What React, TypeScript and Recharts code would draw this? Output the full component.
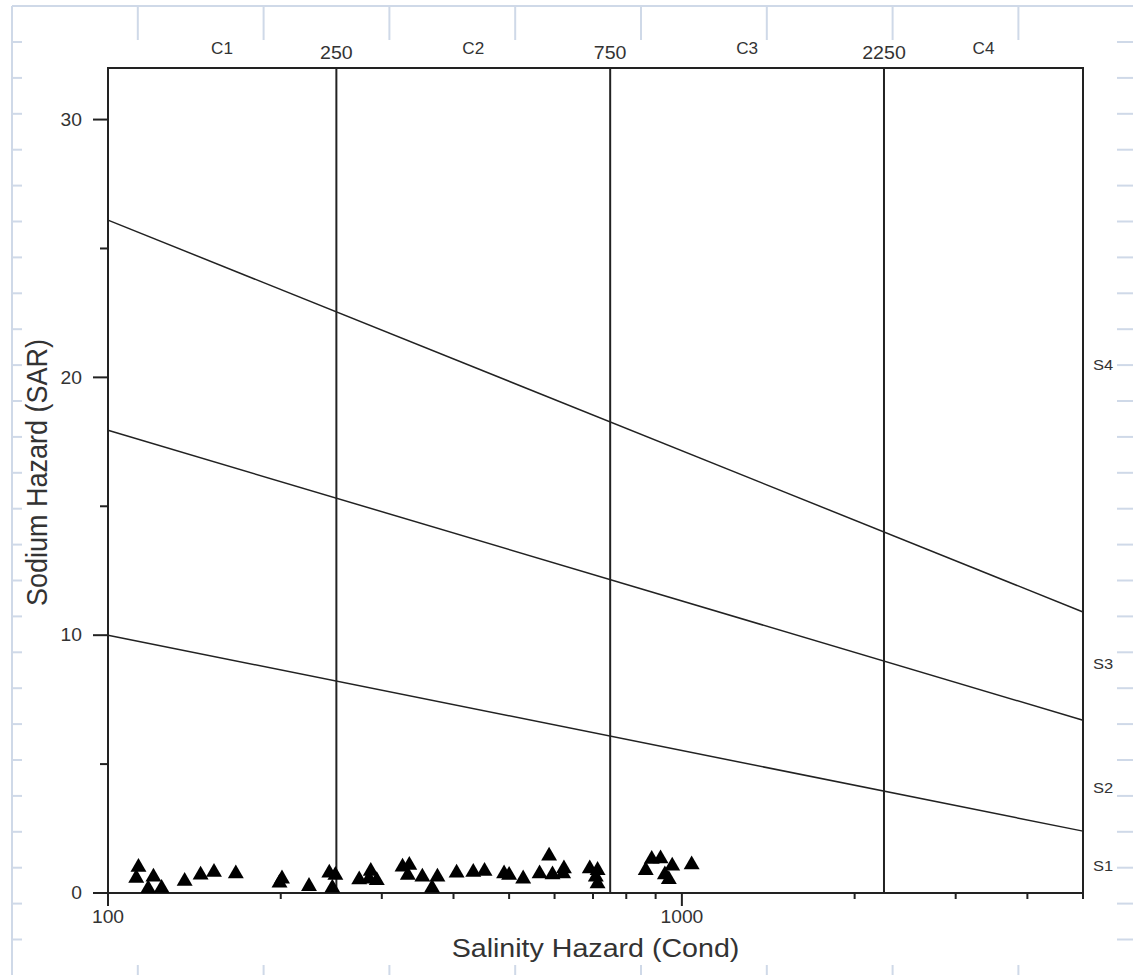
import { ComposedChart, Scatter, XAxis, YAxis, ReferenceLine, ReferenceArea, Symbols } from 'recharts';

// sample points: salinity (EC) and SAR
const salinity = [
  113, 112, 120, 117.5, 124, 136, 145, 153, 167, 201, 199, 224,
  243, 249, 246, 274, 287, 285, 294, 326, 335, 333, 353, 375,
  367, 405, 433, 453, 490, 500, 529, 565, 587, 595, 623, 621,
  691, 713, 708, 713, 865, 886, 918, 962, 934, 949, 1040,
];
const sodium = [
  1.0, 0.58, 0.62, 0.17, 0.19, 0.46, 0.7, 0.81, 0.75, 0.55, 0.39, 0.26,
  0.78, 0.69, 0.2, 0.52, 0.85, 0.55, 0.49, 1.01, 1.08, 0.69, 0.62, 0.62,
  0.2, 0.78, 0.81, 0.85, 0.75, 0.69, 0.55, 0.75, 1.44, 0.71, 0.94, 0.75,
  0.94, 0.88, 0.62, 0.36, 0.88, 1.31, 1.33, 1.05, 0.71, 0.53, 1.1,
];

// salinity class boundaries and labels
const cBoundaries = [250, 750, 2250];
const cLabels = ['C1', 'C2', 'C3', 'C4'];
const cLabelAt = [158, 433, 1299, 3354];

// sodium class boundary lines (SAR at both ends of the axis)
const sLineX = [100, 5000];
const sLineStart = [10, 17.95, 26.1];
const sLineEnd = [2.4, 6.7, 10.9];
const sLabels = ['S1', 'S2', 'S3', 'S4'];
const sLabelAt = [1.05, 4.1, 8.9, 20.5];

const xTicks = [100, 200, 300, 400, 500, 600, 700, 800, 900, 1000, 2000, 3000, 4000, 5000];
const xTickLabels = [100, 1000];
const yTicks = [0, 5, 10, 15, 20, 25, 30];
const yTickLabels = [0, 10, 20, 30];

const points = salinity.map((x, i) => ({ x, y: sodium[i] }));

const INK = '#222';
const TEXT = '#333';
const FONT = '"Liberation Sans", Arial, Helvetica, sans-serif';
const PAGE_BLUE = '#cfd9e8';

// the source figure is a little stretched sideways, so text gets a horizontal scale
function SText({ x, y, size, sx = 1.1, anchor = 'middle', dy, children }: any) {
  return (
    <text
      transform={`translate(${x},${y}) scale(${sx},1)`}
      textAnchor={anchor}
      dy={dy}
      fontSize={size}
      fill={TEXT}
      fontFamily={FONT}
    >
      {children}
    </text>
  );
}

const XTick = (props: any) => {
  const { x, y, payload } = props;
  const major = xTickLabels.includes(payload.value);
  return (
    <g>
      <line x1={x} y1={y} x2={x} y2={y + (major ? 13 : 6)} stroke={INK} strokeWidth={2} />
      {major && (
        <SText x={x} y={y + 30} size={17.5}>
          {payload.value}
        </SText>
      )}
    </g>
  );
};

const YTick = (props: any) => {
  const { x, y, payload } = props;
  const major = yTickLabels.includes(payload.value);
  return (
    <g>
      <line x1={x} y1={y} x2={x - (major ? 15 : 8)} y2={y} stroke={INK} strokeWidth={2} />
      {major && (
        <SText x={x - 26} y={y} dy="0.36em" anchor="end" size={17.5}>
          {payload.value}
        </SText>
      )}
    </g>
  );
};

const Triangle = (props: any) => (
  <Symbols cx={props.cx} cy={props.cy} type="triangle" size={110} fill="#000" />
);

// faint page grid around the figure
function PageGrid() {
  const cols = Array.from({ length: 8 }, (_, k) => 137.8 + k * 125.8);
  const rows: number[] = [];
  for (let y = 42; y < 975; y += 35.9) rows.push(y);
  return (
    <svg width={1133} height={975} style={{ position: 'absolute', left: 0, top: 0 }}>
      <g stroke={PAGE_BLUE} strokeWidth={2}>
        <line x1={12} y1={6} x2={1133} y2={6} />
        <line x1={12} y1={6} x2={12} y2={975} />
        {cols.map((c) => (
          <g key={c}>
            <line x1={c} y1={6} x2={c} y2={40} />
            <line x1={c} y1={965} x2={c} y2={975} />
          </g>
        ))}
        {rows.map((r) => (
          <g key={r}>
            <line x1={12} y1={r} x2={22} y2={r} />
            <line x1={1117} y1={r} x2={1133} y2={r} />
          </g>
        ))}
      </g>
    </svg>
  );
}

export default function App() {
  return (
    <>
      <PageGrid />
      <div style={{ position: 'relative', width: 1125, height: 967 }}>
        <ComposedChart
          width={1125}
          height={967}
          margin={{ top: 60, right: 50, bottom: 0, left: 0 }}
          style={{ fontFamily: FONT }}
        >
          <XAxis
            dataKey="x"
            type="number"
            scale="log"
            domain={[100, 5000]}
            ticks={xTicks}
            interval={0}
            allowDataOverflow
            height={82}
            tickSize={0}
            tickMargin={0}
            tickLine={false}
            tick={<XTick />}
            axisLine={{ stroke: INK, strokeWidth: 2 }}
            label={(p: any) => (
              <SText x={p.viewBox.x + p.viewBox.width / 2} y={p.viewBox.y + 64} size={26}>
                Salinity Hazard (Cond)
              </SText>
            )}
          />
          <YAxis
            dataKey="y"
            type="number"
            domain={[0, 32]}
            ticks={yTicks}
            interval={0}
            allowDataOverflow
            width={100}
            tickSize={0}
            tickMargin={0}
            tickLine={false}
            tick={<YTick />}
            axisLine={{ stroke: INK, strokeWidth: 2 }}
            label={(p: any) => (
              <text
                transform={`translate(${p.viewBox.x + 39},${p.viewBox.y + p.viewBox.height / 2 - 8}) rotate(-90) scale(1,1.1)`}
                textAnchor="middle"
                fontSize={27}
                fill={TEXT}
                fontFamily={FONT}
              >
                Sodium Hazard (SAR)
              </text>
            )}
          />
          <ReferenceArea
            x1={100}
            x2={5000}
            y1={0}
            y2={32}
            fill="none"
            stroke={INK}
            strokeWidth={2}
            ifOverflow="visible"
          />
          {cBoundaries.map((c) => (
            <ReferenceLine
              key={c}
              x={c}
              stroke={INK}
              strokeWidth={2}
              label={(p: any) => (
                <SText x={p.viewBox.x} y={p.viewBox.y - 9} size={17.5} sx={1.12}>
                  {c}
                </SText>
              )}
            />
          ))}
          {cLabels.map((lab, i) => (
            <ReferenceLine
              key={lab}
              x={cLabelAt[i]}
              stroke="none"
              label={(p: any) => (
                <SText x={p.viewBox.x} y={p.viewBox.y - 14} size={16} sx={1.07}>
                  {lab}
                </SText>
              )}
            />
          ))}
          {sLineStart.map((s, i) => (
            <ReferenceLine
              key={'s' + i}
              segment={[
                { x: sLineX[0], y: s },
                { x: sLineX[1], y: sLineEnd[i] },
              ]}
              stroke={INK}
              strokeWidth={1.5}
              ifOverflow="visible"
            />
          ))}
          {sLabels.map((lab, i) => (
            <ReferenceLine
              key={lab}
              y={sLabelAt[i]}
              stroke="none"
              label={(p: any) => (
                <SText
                  x={p.viewBox.x + p.viewBox.width + 10}
                  y={p.viewBox.y}
                  dy="0.36em"
                  anchor="start"
                  size={15}
                >
                  {lab}
                </SText>
              )}
            />
          ))}
          <Scatter data={points} shape={Triangle} fill="#000" isAnimationActive={false} />
        </ComposedChart>
      </div>
    </>
  );
}
